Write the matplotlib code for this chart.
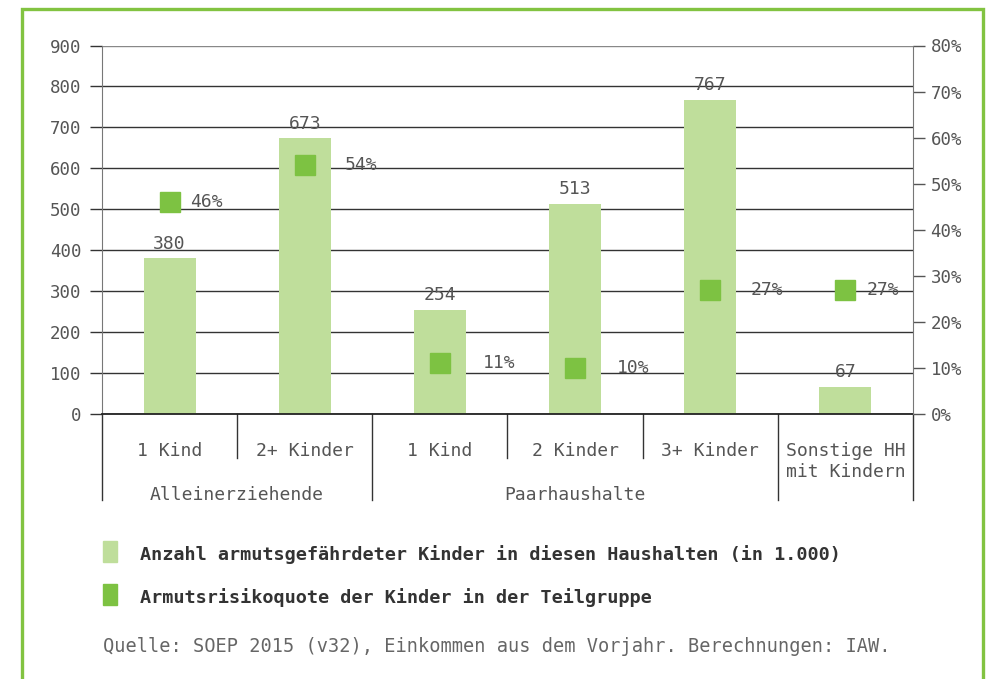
import matplotlib.pyplot as plt
from matplotlib.patches import Rectangle
from matplotlib.transforms import blended_transform_factory

categories = ['1 Kind', '2+ Kinder', '1 Kind', '2 Kinder', '3+ Kinder', 'Sonstige HH\nmit Kindern']
groups = ['Alleinerziehende', 'Paarhaushalte']
group_centers = [0.5, 3.0]
kinder = [380, 673, 254, 513, 767, 67]
quote = [0.46, 0.54, 0.11, 0.10, 0.27, 0.27]
legend_labels = ['Anzahl armutsgefährdeter Kinder in diesen Haushalten (in 1.000)',
                 'Armutsrisikoquote der Kinder in der Teilgruppe']
source = 'Quelle: SOEP 2015 (v32), Einkommen aus dem Vorjahr. Berechnungen: IAW.'

light = '#BFDE9B'
green = '#7DC242'
grey = '#555555'
mono = 'DejaVu Sans Mono'
W, H = 987, 679

plt.rcParams['font.family'] = mono
fig = plt.figure(figsize=(W / 100, H / 100), dpi=100)
ax = fig.add_axes([102 / W, 1 - 414 / H, 811 / W, 368.5 / H])
ax2 = ax.twinx()

x = list(range(len(categories)))
bars = ax.bar(x, kinder, width=0.385, color=light, zorder=2)
for xi, v in zip(x, kinder):
    ax.annotate(str(v), (xi, v), xytext=(0, 4), textcoords='offset points',
                ha='center', va='bottom', fontsize=13, color=grey)

ax.set_xlim(-0.5, len(categories) - 0.5)
ax.set_ylim(0, 900)
ax.set_yticks(range(0, 901, 100))
ax.grid(axis='y', color='#333333', lw=1, zorder=0)
ax.get_ygridlines()[-1].set_color('#888888')
ax.set_xticks([])
ax.tick_params(axis='y', length=8.6, width=1, color='#333333', labelsize=12.5,
               labelcolor=grey, pad=6)
for s in ['top', 'right']:
    ax.spines[s].set_visible(False)
ax.spines['left'].set_color('#777777')
ax.spines['bottom'].set_color('#222222')
ax.spines['bottom'].set_linewidth(1.3)

ax2.set_ylim(0, 0.8)
ax2.set_yticks([i / 10 for i in range(9)])
ax2.set_yticklabels([f'{i * 10}%' for i in range(9)])
ax2.tick_params(axis='y', length=8.6, width=1, color='#555555', labelsize=12.5,
                labelcolor=grey, pad=4)
for s in ['top', 'left', 'bottom']:
    ax2.spines[s].set_visible(False)
ax2.spines['right'].set_color('#777777')
ax2.plot(x, quote, 's', ms=15, color=green, zorder=3)
label_dx = [15, 29, 31, 30, 29, 15]
for xi, q, dx in zip(x, quote, label_dx):
    ax2.annotate(f'{round(q * 100)}%', (xi, q), xytext=(dx, 0), textcoords='offset points',
                 ha='left', va='center', fontsize=13, color=grey)

# category axis with group separators
tr = blended_transform_factory(ax.transData, ax.transAxes)
long_y = (414 - 500) / 368.5
short_y = (414 - 458) / 368.5
for sx in [-0.5, 1.5, 4.5, 5.5]:
    ax.plot([sx, sx], [0, long_y], transform=tr, color='#333333', lw=1, clip_on=False)
for sx in [0.5, 2.5, 3.5]:
    ax.plot([sx, sx], [0, short_y], transform=tr, color='#333333', lw=1, clip_on=False)
for xi, c in zip(x, categories):
    ax.text(xi, (414 - 442) / 368.5, c, transform=tr, ha='center', va='top',
            fontsize=13, color=grey, linespacing=1.2)
for gx, g in zip(group_centers, groups):
    ax.text(gx, (414 - 495) / 368.5, g, transform=tr, ha='center', va='center',
            fontsize=13, color=grey)

# legend and source
for i, (lab, col) in enumerate(zip(legend_labels, [light, green])):
    top = 541 + i * 43
    fig.patches.append(Rectangle((103 / W, 1 - (top + 21) / H), 14 / W, 21 / H,
                                 transform=fig.transFigure, color=col))
    fig.text(140 / W, 1 - (top + 14) / H, lab, ha='left', va='center',
             fontsize=13.3, fontweight='bold', color='#333333')
fig.text(103 / W, 1 - 647 / H, source, ha='left', va='center', fontsize=13.4, color='#666666')

# green frame
fig.patches.append(Rectangle((21.5 / W, -0.05), 962 / W, 1.05 - 8.5 / H, transform=fig.transFigure,
                             fill=False, edgecolor='#82C341', lw=2.4))

fig.savefig('out.png', dpi=100)
